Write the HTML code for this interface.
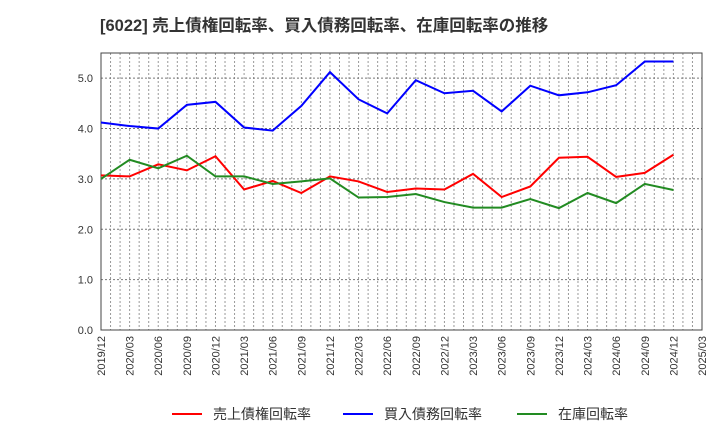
<!DOCTYPE html>
<html><head><meta charset="utf-8"><style>
body{margin:0;background:#fff;font-family:"Liberation Sans","Noto Sans CJK JP",sans-serif;}
</style></head><body>
<svg width="720" height="440" xmlns="http://www.w3.org/2000/svg" style="font-family:'Liberation Sans','Noto Sans CJK JP',sans-serif">
<text x="100" y="31" font-size="16.5" font-weight="bold" fill="#333">[6022]  売上債権回転率、買入債務回転率、在庫回転率の推移</text>
<g id="grid"></g>
<g id="axes"></g>
<g id="series"></g>
<g id="legend"></g>
</svg>
<script>
const categories=["2019/12","2020/03","2020/06","2020/09","2020/12","2021/03","2021/06","2021/09","2021/12","2022/03","2022/06","2022/09","2022/12","2023/03","2023/06","2023/09","2023/12","2024/03","2024/06","2024/09","2024/12","2025/03"];
const receivables=[3.07,3.05,3.29,3.17,3.45,2.79,2.96,2.72,3.05,2.95,2.74,2.81,2.79,3.1,2.64,2.85,3.42,3.44,3.04,3.12,3.48];
const payables=[4.12,4.05,4.0,4.47,4.53,4.02,3.96,4.45,5.12,4.58,4.3,4.96,4.7,4.75,4.34,4.85,4.66,4.72,4.86,5.33,5.33];
const inventory=[3.0,3.38,3.21,3.46,3.05,3.05,2.9,2.95,3.01,2.63,2.64,2.7,2.54,2.43,2.43,2.6,2.42,2.72,2.52,2.9,2.78];
const yTicks=[0,1,2,3,4,5];
const yTickLabels=["0.0","1.0","2.0","3.0","4.0","5.0"];
const seriesNames=["売上債権回転率","買入債務回転率","在庫回転率"];

const L=101,R=702,T=53,B=330,yMax=5.5;
const NS="http://www.w3.org/2000/svg";
const step=(R-L)/(categories.length-1);
const xs=i=>L+i*step;
const ys=v=>B-(v/yMax)*(B-T);
function mk(tag,attrs,parent){const e=document.createElementNS(NS,tag);for(const k in attrs)e.setAttribute(k,attrs[k]);parent.appendChild(e);return e;}
const grid=document.getElementById('grid'),axes=document.getElementById('axes'),ser=document.getElementById('series'),leg=document.getElementById('legend');
for(let m=1;m<(categories.length-1)*3;m++){
  const x=L+m*step/3;
  const g=mk('line',{x1:x,x2:x,y1:T,y2:B,stroke:'#999','stroke-dasharray':'2,2','stroke-width':1},grid);
  
  
}
yTicks.forEach((v,i)=>{
  const y=ys(v);
  if(v>0){const g=mk('line',{x1:L,x2:R,y1:y,y2:y,stroke:'#777','stroke-dasharray':'2,2','stroke-width':1},grid);
  
  }
  const t=mk('text',{x:L-8,y:y+4,'font-size':11,'text-anchor':'end',fill:'#333'},axes);
  t.textContent=yTickLabels[i];
  
  
});
const frame=mk('rect',{x:L,y:T,width:R-L,height:B-T,fill:'none',stroke:'#444','stroke-width':1},axes);


categories.forEach((c,i)=>{
  const x=xs(i);
  const t=mk('text',{x:x+4,y:B+6,'font-size':11,'text-anchor':'end',fill:'#333',transform:`rotate(-90 ${x+4} ${B+6})`},axes);
  t.textContent=c;
  
  
});
const colors=["#ff0000","#0000ff","#228b22"];
[receivables,payables,inventory].forEach((d,s)=>{
  const p=mk('polyline',{points:d.map((v,i)=>xs(i)+','+ys(v)).join(' '),fill:'none',stroke:colors[s],'stroke-width':2},ser);
  
  
});
const lx=[172,343,517];
seriesNames.forEach((n,s)=>{
  const g=mk('g',{},leg);
  
  
  mk('line',{x1:lx[s],x2:lx[s]+30,y1:414,y2:414,stroke:colors[s],'stroke-width':2},g);
  const t=mk('text',{x:lx[s]+41,y:419,'font-size':14,fill:'#333'},g);
  t.textContent=n;
});
</script>
</body></html>
